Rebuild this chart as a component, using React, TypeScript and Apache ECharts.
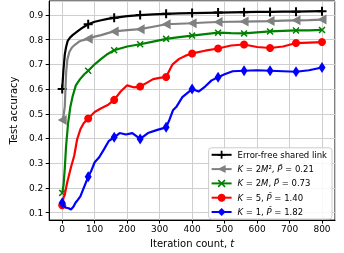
import React, { useEffect, useRef } from "react";
import * as echarts from "echarts";

const FONT = "DejaVu Sans";

const seriesNames = [
  "Error-free shared link",
  "K = 2M², P̄ = 0.21",
  "K = 2M, P̄ = 0.73",
  "K = 5, P̄ = 1.40",
  "K = 1, P̄ = 1.82",
];
const legendLabels = [
  "Error-free shared link",
  "{i|K} = 2{i|M}², {i|P̄} = 0.21",
  "{i|K} = 2{i|M}, {i|P̄} = 0.73",
  "{i|K} = 5, {i|P̄} = 1.40",
  "{i|K} = 1, {i|P̄} = 1.82",
];
const colors = ["#000000", "#808080", "#008000", "#ff0000", "#0000ff"];

const blackT = [0, 4, 8, 12, 17, 24, 32, 42, 52, 65, 80, 100, 120, 140, 160, 200, 240, 280, 320, 360, 400, 440, 480, 520, 560, 600, 640, 680, 720, 760, 800];
const blackV = [0.6, 0.68, 0.74, 0.77, 0.795, 0.808, 0.818, 0.828, 0.838, 0.85, 0.862, 0.872, 0.878, 0.884, 0.888, 0.895, 0.899, 0.902, 0.904, 0.906, 0.907, 0.908, 0.909, 0.91, 0.911, 0.912, 0.912, 0.913, 0.913, 0.914, 0.915];

const grayT = [0, 4, 8, 12, 16, 22, 30, 40, 52, 65, 80, 100, 120, 140, 160, 200, 240, 280, 320, 360, 400, 440, 480, 520, 560, 600, 640, 680, 720, 760, 800];
const grayV = [0.475, 0.49, 0.53, 0.665, 0.72, 0.75, 0.768, 0.78, 0.792, 0.798, 0.803, 0.812, 0.818, 0.826, 0.833, 0.838, 0.842, 0.852, 0.862, 0.864, 0.866, 0.869, 0.871, 0.872, 0.873, 0.874, 0.875, 0.877, 0.878, 0.879, 0.881];

const greenT = [0, 4, 8, 12, 18, 25, 32, 42, 55, 68, 80, 100, 120, 140, 160, 200, 240, 280, 320, 360, 400, 440, 480, 520, 560, 600, 640, 680, 720, 760, 800];
const greenV = [0.18, 0.21, 0.28, 0.37, 0.46, 0.527, 0.57, 0.615, 0.64, 0.66, 0.674, 0.7, 0.722, 0.742, 0.757, 0.772, 0.781, 0.792, 0.803, 0.81, 0.816, 0.822, 0.828, 0.826, 0.825, 0.829, 0.833, 0.835, 0.837, 0.837, 0.839];

const redT = [0, 4, 8, 15, 27, 37, 46, 56, 66, 80, 100, 120, 140, 160, 180, 200, 220, 240, 260, 280, 300, 320, 330, 340, 360, 380, 400, 440, 480, 520, 560, 600, 640, 680, 720, 760, 800];
const redV = [0.13, 0.16, 0.173, 0.22, 0.284, 0.33, 0.397, 0.437, 0.462, 0.481, 0.507, 0.522, 0.535, 0.556, 0.59, 0.615, 0.607, 0.61, 0.625, 0.64, 0.645, 0.649, 0.675, 0.7, 0.722, 0.735, 0.744, 0.755, 0.764, 0.776, 0.78, 0.77, 0.766, 0.772, 0.786, 0.788, 0.79];

const blueT = [0, 6, 12, 20, 27, 35, 41, 48, 56, 66, 80, 90, 100, 114, 129, 143, 160, 177, 196, 216, 240, 264, 293, 320, 330, 341, 351, 370, 400, 420, 440, 460, 480, 500, 525, 560, 600, 640, 680, 720, 760, 800];
const blueV = [0.14, 0.125, 0.12, 0.118, 0.113, 0.125, 0.14, 0.152, 0.166, 0.199, 0.245, 0.271, 0.304, 0.324, 0.357, 0.389, 0.405, 0.422, 0.416, 0.422, 0.398, 0.422, 0.435, 0.445, 0.475, 0.514, 0.527, 0.567, 0.6, 0.59, 0.61, 0.635, 0.648, 0.66, 0.672, 0.674, 0.676, 0.674, 0.672, 0.67, 0.676, 0.687];

const seriesT = [blackT, grayT, greenT, redT, blueT];
const seriesV = [blackV, grayV, greenV, redV, blueV];

const MARK_EVERY = 80;

const symbols = [
  "path://M3.5,0H5.5V3.5H9V5.5H5.5V9H3.5V5.5H0V3.5H3.5Z",
  "path://M0,5L9,0L9,10Z",
  "path://M0,1.2L1.2,0L4,2.8L6.8,0L8,1.2L5.2,4L8,6.8L6.8,8L4,5.2L1.2,8L0,6.8L2.8,4Z",
  "circle",
  "path://M3,0L6,5L3,10L0,5Z",
];
const symbolSizes: (number | number[])[] = [9, [9, 10], 7, 8, [7, 11]];

export default function App() {
  const ref = useRef<HTMLDivElement>(null);
  useEffect(() => {
    if (!ref.current) return;
    const chart = echarts.init(ref.current, undefined, { renderer: "svg" });
    const series = seriesNames.map((name, k) => ({
      name,
      type: "line",
      data: seriesT[k].map((t, i) => [t, seriesV[k][i]]),
      symbol: symbols[k],
      symbolSize: (val: number[]) => (val[0] % MARK_EVERY === 0 ? symbolSizes[k] : 0),
      showSymbol: true,
      showAllSymbol: true,
      lineStyle: { width: 2.2, color: colors[k] },
      itemStyle: { color: colors[k] },
      z: 2 + k,
      clip: true,
    }));
    chart.setOption({
      animation: false,
      textStyle: { fontFamily: FONT },
      grid: {
        left: 32,
        right: 9,
        top: 1,
        bottom: 27,
        show: true,
        borderColor: "#000",
        borderWidth: 1,
        containLabel: false,
      },
      xAxis: {
        type: "value",
        min: -40,
        max: 840,
        splitNumber: 9,
        name: "Iteration count, {i|t}",
        nameLocation: "middle",
        nameGap: 17,
        nameTextStyle: {
          fontFamily: FONT,
          fontSize: 10,
          color: "#000",
          rich: { i: { fontStyle: "italic", fontFamily: FONT, fontSize: 10, color: "#000" } },
        },
        axisLine: { show: true, onZero: false, lineStyle: { color: "#000", width: 1 } },
        axisTick: { show: true, inside: false, length: 3.5, lineStyle: { color: "#000" } },
        axisLabel: {
          showMinLabel: false,
          showMaxLabel: false,
          fontFamily: FONT,
          fontSize: 9,
          color: "#000",
          margin: 4,
        },
        splitLine: { show: true, lineStyle: { color: "#cfcfcf", width: 1 } },
      },
      yAxis: {
        type: "value",
        min: 0.07,
        max: 0.956,
        splitNumber: 9,
        name: "Test accuracy",
        nameLocation: "middle",
        nameGap: 26,
        nameTextStyle: { fontFamily: FONT, fontSize: 10, color: "#000" },
        axisLine: { show: true, onZero: false, lineStyle: { color: "#000", width: 1 } },
        axisTick: { show: true, inside: false, length: 3.5, lineStyle: { color: "#000" } },
        axisLabel: {
          showMinLabel: false,
          showMaxLabel: false,
          fontFamily: FONT,
          fontSize: 9,
          color: "#000",
          margin: 6,
          formatter: (v: number) => v.toFixed(1),
        },
        splitLine: { show: true, lineStyle: { color: "#cfcfcf", width: 1 } },
      },
      legend: {
        orient: "vertical",
        right: 12,
        bottom: 34,
        itemWidth: 20,
        itemHeight: 10,
        itemGap: 4.3,
        padding: [2, 5, 2, 2],
        backgroundColor: "rgba(255,255,255,0.85)",
        borderColor: "#cccccc",
        borderWidth: 1,
        borderRadius: 3,
        formatter: (n: string) => legendLabels[seriesNames.indexOf(n)] ?? n,
        textStyle: {
          fontFamily: FONT,
          fontSize: 8.5,
          color: "#000",
          lineHeight: 10,
          padding: [0, 0, 0, 1],
          rich: { i: { fontStyle: "italic", fontFamily: FONT, fontSize: 8.5, color: "#000" } },
        },
        data: seriesNames,
      },
      series,
    });
    return () => chart.dispose();
  }, []);
  return (
    <div
      ref={ref}
      style={{ position: "fixed", left: 0, top: 0, width: 344, height: 253 }}
    />
  );
}
